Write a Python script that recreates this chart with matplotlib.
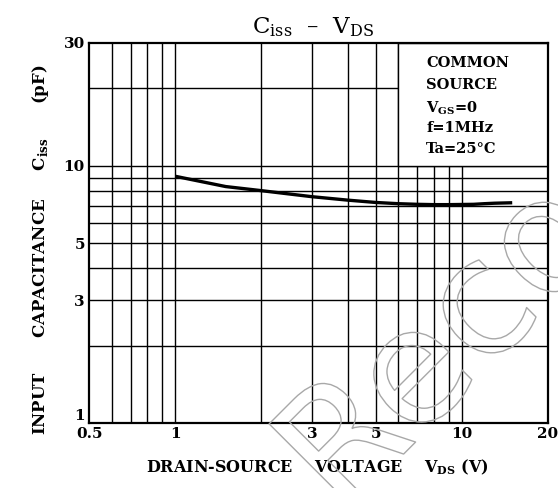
import matplotlib
matplotlib.use("Agg")
import matplotlib.pyplot as plt
import matplotlib.patheffects as pe
from matplotlib.patches import Rectangle

plt.rcParams["font.family"] = "DejaVu Serif"
plt.rcParams["mathtext.fontset"] = "custom"
plt.rcParams["mathtext.rm"] = "DejaVu Serif"
plt.rcParams["mathtext.bf"] = "DejaVu Serif:bold"

# curve
vds = [1, 1.5, 2, 3, 4, 5, 6, 7, 8, 9, 10, 11, 12, 13, 15]
ciss = [9.1, 8.3, 8.0, 7.58, 7.35, 7.2, 7.12, 7.08, 7.06, 7.06, 7.07, 7.08, 7.12, 7.15, 7.18]

x_ticks = [0.5, 1, 3, 5, 10, 20]
x_tick_labels = ["0.5", "1", "3", "5", "10", "20"]
y_ticks = [1, 3, 5, 10, 30]
y_tick_labels = ["1", "3", "5", "10", "30"]

x_grid = [0.6, 0.7, 0.8, 0.9, 1, 2, 3, 4, 5, 6, 7, 8, 9, 10]
y_grid = [2, 3, 4, 5, 6, 7, 8, 9, 10, 20]

conditions = ["COMMON", "SOURCE", r"V$_{\mathbf{GS}}$=0", "f=1MHz", "Ta=25°C"]

fig = plt.figure(figsize=(5.58, 4.88), dpi=100)
ax = fig.add_axes([0.1595, 0.1332, 0.8226, 0.7787])
ax.set_xscale("log")
ax.set_yscale("log")
ax.set_xlim(0.5, 20)
ax.set_ylim(1, 30)

ax.vlines(x_grid, 1, 30, color="black", lw=1.0, zorder=1)
ax.hlines(y_grid, 0.5, 20, color="black", lw=1.0, zorder=1)

# box for the test conditions covers the grid
ax.add_patch(Rectangle((6, 10), 14, 20, facecolor="white", edgecolor="black",
                       lw=1.0, zorder=2))
for i, line in enumerate(conditions):
    ax.text(0.735, 0.965 - i * 0.0566, line, transform=ax.transAxes,
            fontsize=10.5, fontweight="bold", ha="left", va="top", zorder=3)

ax.plot(vds, ciss, color="black", lw=2.4, solid_capstyle="butt", zorder=4)

ax.xaxis.set_minor_locator(matplotlib.ticker.NullLocator())
ax.yaxis.set_minor_locator(matplotlib.ticker.NullLocator())
ax.set_xticks(x_ticks)
ax.set_xticklabels(x_tick_labels, fontweight="bold", fontsize=11)
ax.set_yticks(y_ticks)
ax.set_yticklabels(y_tick_labels, fontweight="bold", fontsize=11)
ax.get_yticklabels()[0].set_va("bottom")
ax.tick_params(length=0, pad=3)
for s in ax.spines.values():
    s.set_linewidth(1.6)

fig.text(0.561, 0.945, r"C$_{\mathrm{iss}}$  –  V$_{\mathrm{DS}}$", fontsize=16.5,
         ha="center", va="center")
fig.text(0.568, 0.043, r"DRAIN-SOURCE    VOLTAGE    V$_{\mathbf{DS}}$ (V)",
         fontsize=11.5, fontweight="bold", ha="center", va="center")
fig.text(0.072, 0.488, r"INPUT      CAPACITANCE     C$_{\mathbf{iss}}$      (pF)",
         fontsize=12, fontweight="bold", ha="center", va="center", rotation=90)

# watermark in outline
fig.text(0.61, -0.06, "Reco", fontsize=115, family="DejaVu Sans",
         color="none", rotation=45, rotation_mode="anchor", ha="left",
         va="baseline", zorder=10,
         path_effects=[pe.withStroke(linewidth=1.0, foreground="#a8a8a8")])

fig.savefig("out.png", dpi=100)
